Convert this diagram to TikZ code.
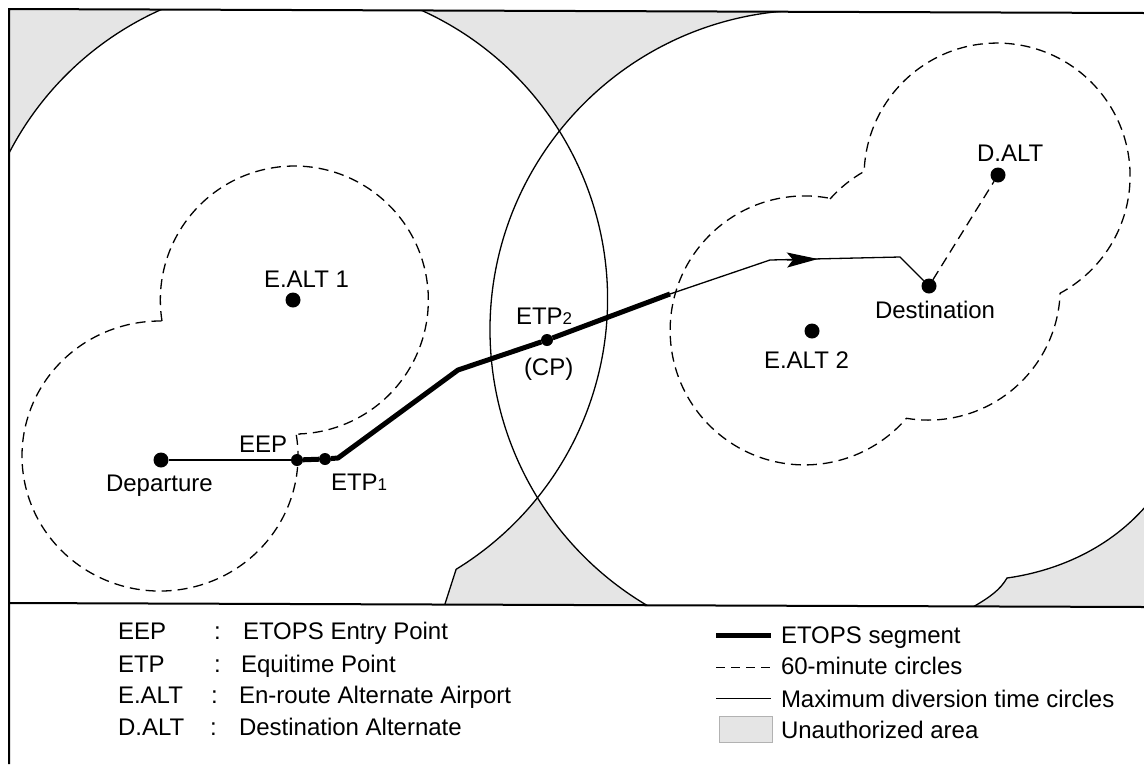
\documentclass[tikz,border=0pt]{standalone}
\usepackage{fontspec}
\setmainfont{Liberation Sans}
\usetikzlibrary{arrows.meta}
\newcommand{\smallnum}[1]{{\fontsize{17}{17}\selectfont #1}}

\begin{document}
\begin{tikzpicture}[x=1pt, y=1pt, color=black, line width=1.3pt,
      every node/.append style={inner sep=0pt,outer sep=0pt,font=\fontsize{24}{28}\selectfont},
      unauth/.style={fill=gray!20,draw=none},
      frameline/.style={line width=2pt},
      sixty/.style={dash pattern=on 10pt off 6pt},
      etops/.style={line width=5pt,line join=round}]
      \tikzstyle{word} = [anchor=base west]
      \tikzstyle{airport} = [circle,fill=black,minimum size=15pt]
      \tikzstyle{fixpoint} = [circle,fill=black,minimum size=12pt]
      \useasboundingbox (0,0) rectangle (1144,-764);
      \fill[white] (0,0) rectangle (1144,-764);

      \begin{scope}
        \clip (9,-9) -- (1144,-13) -- (1144,-607) -- (9,-603) -- cycle;
        \fill[unauth] (290.5,-299) ++(113:317) arc (113:160:317) -- (-5,-5) -- cycle;
        \fill[unauth] (290.5,-299) ++(68:317) arc (68:32:317) arc (141.6:95:320) -- (782,-5) -- (410,-5) -- cycle;
        \fill[unauth] (290.5,-299) ++(-38.8:317) arc (-38.8:-58.5:317) -- (444,-607) -- (650,-607) arc (240:211.6:320) -- cycle;
        \fill[unauth] (973,-607) .. controls (990,-597) and (1000,-590) .. (1007,-578)
          .. controls (1050,-572) and (1105,-553) .. (1146,-506) -- (1146,-609) -- cycle;
        \draw (290.5,-299) ++(160:317) arc (160:-58.5:317) -- (444,-607);
        \draw (810,-330) ++(95:320) arc (95:242:320);
        \draw (973,-607) .. controls (990,-597) and (1000,-590) .. (1007,-578)
          .. controls (1050,-572) and (1105,-553) .. (1146,-506);
      \end{scope}

      \coordinate (topleft) at (9,-9);
      \coordinate (topright) at (1144,-13);
      \coordinate (midleft) at (9,-603);
      \coordinate (midright) at (1144,-607);
      \coordinate (botleft) at (9,-764);
      \draw[frameline] (topright) -- (topleft) -- (botleft);
      \draw[frameline] (midleft) -- (midright);

      \draw[sixty] (162,-321) arc (189:-88:134) -- ++(0,-1) (296.3,-434.9) arc (9:-271:138 and 135);
      \draw[sixty] (830,-199) arc (138.4:119.4:133) arc (178:-61.7:133)
        arc (-2.2:-99.5:132) arc (-40.8:-280.8:134.5);

      \node (departure) [airport] at (161,-460) {};
      \node (eep) [fixpoint] at (297,-460) {};
      \node (etpone) [fixpoint] at (325,-459) {};
      \node (ealtone) [airport] at (293,-300) {};
      \node (etptwo) [fixpoint] at (547,-340) {};
      \node (ealttwo) [airport] at (812,-331) {};
      \node (destination) [airport] at (929,-286) {};
      \node (dalt) [airport] at (998,-175) {};
      \coordinate (kinkone) at (338,-458);
      \coordinate (kinktwo) at (458,-370);
      \coordinate (thickend) at (670,-294);
      \coordinate (kinkthree) at (770,-260);
      \coordinate (kinkfour) at (900,-257);
      \coordinate (arrowtail) at (787,-260);
      \coordinate (arrowtip) at (818,-259);

      \draw (departure) -- (eep);
      \draw[etops] (eep) -- (etpone) -- (kinkone) -- (kinktwo) -- (etptwo) -- (thickend);
      \draw (thickend) -- (kinkthree) -- (kinkfour) -- (destination);
      \draw[-{Stealth[length=31pt,width=15pt,inset=6pt]}] (arrowtail) -- (arrowtip);
      \draw[sixty] (destination) -- (dalt);

      \node (ealtonelabel) [word] at (264,-287) {E.ALT 1};
      \node (departurelabel) [word] at (106,-491) {Departure};
      \node (eeplabel) [word] at (239,-452) {EEP};
      \node (etponelabel) [word] at (331,-490) {ETP\smallnum{1}};
      \node (etptwolabel) [word] at (516,-324) {ETP\smallnum{2}};
      \node (cplabel) [word] at (524,-375) {(CP)};
      \node (ealttwolabel) [word] at (764,-368) {E.ALT 2};
      \node (destinationlabel) [word] at (875,-318) {Destination};
      \node (daltlabel) [word] at (977,-161) {D.ALT};

      \node (keyeep) [word] at (118,-639) {EEP};
      \node (keyetp) [word] at (118,-672) {ETP};
      \node (keyealt) [word] at (118,-703) {E.ALT};
      \node (keydalt) [word] at (118,-735) {D.ALT};
      \node (coloneep) [word] at (214,-639) {:};
      \node (colonetp) [word] at (214,-672) {:};
      \node (colonealt) [word] at (211,-703) {:};
      \node (colondalt) [word] at (210,-735) {:};
      \node (texteep) [word] at (243,-639) {ETOPS Entry Point};
      \node (textetp) [word] at (241,-672) {Equitime Point};
      \node (textealt) [word] at (239,-703) {En-route Alternate Airport};
      \node (textdalt) [word] at (239,-735) {Destination Alternate};

      \coordinate (keythickl) at (716,-635);
      \coordinate (keythickr) at (771,-635);
      \coordinate (keydashl) at (716,-667);
      \coordinate (keydashr) at (771,-667);
      \coordinate (keythinl) at (716,-698);
      \coordinate (keythinr) at (771,-698);
      \draw[etops] (keythickl) -- (keythickr);
      \draw[dash pattern=on 9pt off 6pt,line width=1pt] (keydashl) -- (keydashr);
      \draw[line width=1pt] (keythinl) -- (keythinr);
      \fill[unauth,draw=gray!60,line width=.8pt] (719,-716) rectangle (772,-742);
      \node (keysegment) [word] at (781,-643) {ETOPS segment};
      \node (keysixty) [word] at (781,-674) {60-minute circles};
      \node (keymax) [word] at (781,-707) {Maximum diversion time circles};
      \node (keyarea) [word] at (781,-738) {Unauthorized area};
  \end{tikzpicture}
\end{document}
